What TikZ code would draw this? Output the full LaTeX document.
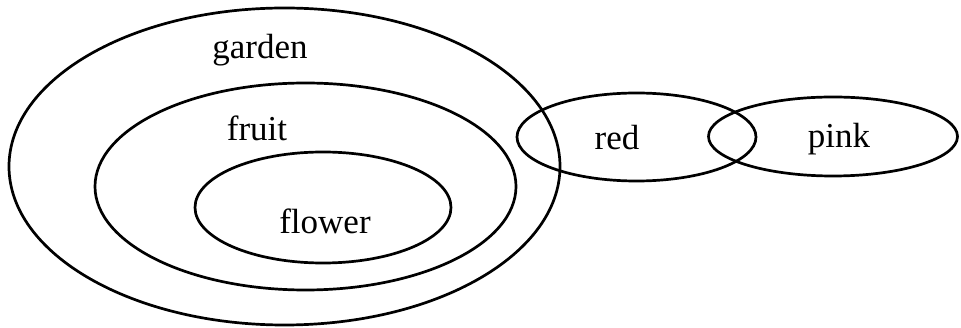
\documentclass[tikz,border=0pt]{standalone}
\usepackage{fontspec}
\setmainfont{Liberation Serif}
\begin{document}
\begin{tikzpicture}
        [x=1pt, y=-1pt, every node/.style={font=\fontsize{35}{40}\selectfont, inner sep=0}, every path/.style={line width=2.7pt, black}]

        \useasboundingbox (0, 0) rectangle (961, 328);

        \coordinate (cgarden) at (284.5, 166.5);
        \coordinate (cfruit) at (305.5, 186.5);
        \coordinate (cflower) at (323, 207.5);
        \coordinate (cred) at (636.5, 137);
        \coordinate (cpink) at (833, 136.5);

        \draw (cgarden) ellipse [x radius=275.5pt, y radius=158.5pt];
        \draw (cfruit) ellipse [x radius=210.5pt, y radius=103.5pt];
        \draw (cflower) ellipse [x radius=128pt, y radius=55.5pt];
        \draw (cred) ellipse [x radius=119.5pt, y radius=44pt];
        \draw (cpink) ellipse [x radius=124.5pt, y radius=39.5pt];

        \node (garden) at (260, 50) {garden};
        \node (fruit) at (257, 128) {fruit};
        \node (flower) at (325, 221) {flower};
        \node (red) at (617, 138) {red};
        \node (pink) at (839, 139) {pink};

      \end{tikzpicture}
\end{document}
